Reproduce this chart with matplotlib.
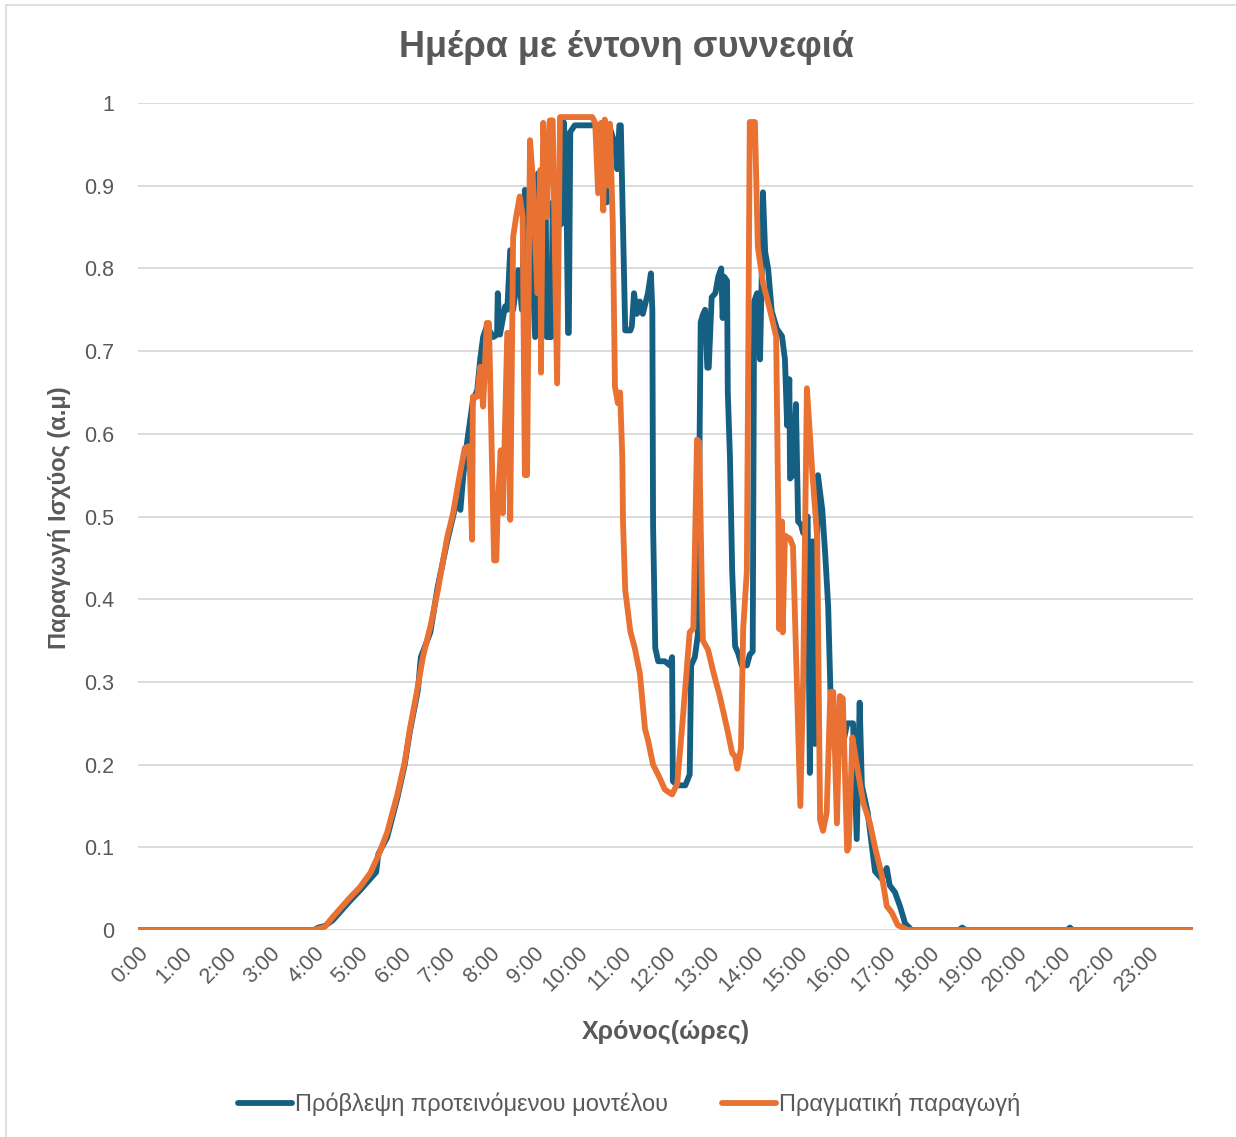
"""
Ημέρα με έντονη συννεφιά - πρόβλεψη vs πραγματική παραγωγή
Output: out.png
"""

import matplotlib
matplotlib.use('Agg')
import matplotlib.pyplot as plt
import matplotlib.patches as mpatches

plt.rcParams['font.family'] = ['Liberation Sans', 'DejaVu Sans']

# ── Δεδομένα (λεπτά από 0:00, ισχύς α.μ.) ─────────────────────────────────────
pred_min = [0, 240, 246, 255, 266, 289, 303, 317, 325, 328, 340, 354, 364, 371, 382, 386,
            399, 409, 422, 430, 435, 440, 444, 449, 457, 463, 467, 471, 476, 485, 490, 491,
            494, 501, 504, 508, 512, 519, 524, 528, 535, 542, 546, 551, 556, 558, 564, 566,
            571, 573, 579, 581, 584, 587, 588, 590, 596, 637, 640, 643, 651, 654, 657, 659,
            662, 665, 672, 674, 677, 681, 685, 689, 696, 700, 702, 703, 706, 710, 719, 726,
            729, 730, 736, 747, 753, 755, 760, 764, 768, 771, 774, 777, 779, 783, 788, 792,
            796, 798, 800, 804, 805, 808, 811, 815, 819, 824, 831, 835, 839, 841, 845, 849,
            852, 853, 856, 860, 865, 872, 879, 883, 886, 889, 890, 894, 898, 901, 905, 908,
            914, 917, 921, 924, 928, 934, 938, 942, 945, 951, 955, 961, 968, 976, 981, 985,
            988, 996, 1006, 1015, 1022, 1026, 1033, 1040, 1047, 1056, 1120, 1125, 1130,
            1268, 1272, 1276, 1439]
pred_val = [0, 0, 0.003, 0.005, 0.012, 0.035, 0.048, 0.062, 0.07, 0.092, 0.112, 0.16, 0.2,
            0.24, 0.29, 0.33, 0.36, 0.415, 0.47, 0.5, 0.52, 0.508, 0.55, 0.589, 0.64, 0.653,
            0.69, 0.717, 0.73, 0.717, 0.72, 0.77, 0.72, 0.754, 0.75, 0.822, 0.75, 0.798, 0.75,
            0.895, 0.87, 0.717, 0.915, 0.72, 0.93, 0.717, 0.717, 0.88, 0.72, 0.85, 0.855,
            0.977, 0.94, 0.722, 0.722, 0.965, 0.973, 0.973, 0.88, 0.973, 0.95, 0.92, 0.973,
            0.973, 0.846, 0.725, 0.725, 0.73, 0.77, 0.745, 0.76, 0.745, 0.77, 0.794, 0.75,
            0.49, 0.341, 0.325, 0.325, 0.32, 0.33, 0.18, 0.175, 0.175, 0.188, 0.32, 0.33,
            0.356, 0.735, 0.744, 0.75, 0.68, 0.68, 0.765, 0.77, 0.79, 0.8, 0.74, 0.79, 0.785,
            0.65, 0.57, 0.434, 0.343, 0.335, 0.32, 0.32, 0.333, 0.337, 0.76, 0.77, 0.69, 0.82,
            0.892, 0.82, 0.8, 0.748, 0.727, 0.718, 0.69, 0.61, 0.666, 0.546, 0.55, 0.636,
            0.494, 0.49, 0.48, 0.5, 0.19, 0.47, 0.225, 0.55, 0.508, 0.454, 0.392, 0.292,
            0.217, 0.254, 0.22, 0.25, 0.25, 0.11, 0.275, 0.175, 0.142, 0.071, 0.062, 0.075,
            0.054, 0.046, 0.029, 0.008, 0, 0, 0.003, 0, 0, 0.003, 0, 0]

real_min = [0, 240, 248, 255, 266, 289, 303, 317, 328, 340, 354, 364, 371, 382, 389, 399,
            409, 422, 430, 438, 446, 452, 456, 457, 463, 467, 471, 476, 479, 483, 486, 489,
            491, 495, 498, 504, 505, 508, 512, 516, 521, 525, 528, 531, 535, 539, 545, 549,
            550, 553, 556, 558, 562, 566, 572, 576, 620, 624, 628, 632, 635, 637, 642, 644,
            648, 651, 655, 658, 661, 662, 665, 672, 678, 685, 692, 696, 703, 712, 719, 729,
            736, 744, 753, 758, 763, 766, 770, 771, 778, 785, 794, 804, 811, 815, 818, 823,
            826, 831, 835, 842, 846, 853, 863, 871, 874, 875, 879, 880, 883, 890, 894, 904,
            908, 913, 920, 927, 931, 935, 940, 945, 949, 954, 958, 962, 968, 970, 975, 981,
            990, 999, 1006, 1015, 1022, 1029, 1037, 1051, 1439]
real_val = [0, 0, 0.002, 0.004, 0.016, 0.039, 0.052, 0.069, 0.09, 0.118, 0.164, 0.203,
            0.243, 0.295, 0.331, 0.367, 0.41, 0.475, 0.504, 0.545, 0.583, 0.585, 0.472, 0.645,
            0.645, 0.681, 0.633, 0.734, 0.734, 0.572, 0.447, 0.447, 0.512, 0.58, 0.504, 0.722,
            0.722, 0.496, 0.838, 0.862, 0.887, 0.862, 0.55, 0.55, 0.955, 0.907, 0.77, 0.919,
            0.674, 0.976, 0.92, 0.862, 0.979, 0.979, 0.661, 0.983, 0.983, 0.976, 0.891, 0.976,
            0.87, 0.98, 0.9, 0.975, 0.855, 0.657, 0.637, 0.65, 0.572, 0.492, 0.411, 0.361,
            0.341, 0.31, 0.243, 0.23, 0.2, 0.184, 0.17, 0.164, 0.177, 0.26, 0.36, 0.365, 0.593,
            0.59, 0.39, 0.35, 0.339, 0.313, 0.283, 0.244, 0.214, 0.21, 0.195, 0.22, 0.364,
            0.434, 0.977, 0.977, 0.826, 0.783, 0.748, 0.718, 0.498, 0.364, 0.494, 0.36, 0.477,
            0.473, 0.464, 0.15, 0.308, 0.655, 0.558, 0.475, 0.133, 0.12, 0.142, 0.288, 0.288,
            0.129, 0.283, 0.28, 0.096, 0.1, 0.233, 0.2, 0.154, 0.129, 0.1, 0.067, 0.029,
            0.021, 0.006, 0, 0]

hour_labels = [f'{h}:00' for h in range(24)]
y_ticks = [0, 0.1, 0.2, 0.3, 0.4, 0.5, 0.6, 0.7, 0.8, 0.9, 1]
y_labels = ['0', '0.1', '0.2', '0.3', '0.4', '0.5', '0.6', '0.7', '0.8', '0.9', '1']

# ── Plot ──────────────────────────────────────────────────────────────────────
txt = '#595959'
fig = plt.figure(figsize=(12.36, 11.37), dpi=100)
ax = fig.add_axes([0.1117, 0.182, 0.8535, 0.7274])

ax.plot(pred_min, pred_val, color='#156082', lw=4.2,
        solid_joinstyle='round', solid_capstyle='round',
        label='Πρόβλεψη προτεινόμενου μοντέλου', zorder=3)
ax.plot(real_min, real_val, color='#E97132', lw=4.2,
        solid_joinstyle='round', solid_capstyle='round',
        label='Πραγματική παραγωγή', zorder=4)

ax.set_xlim(0, 1440)
ax.set_ylim(0, 1)
ax.set_xticks([h * 60 for h in range(24)])
ax.set_xticklabels(hour_labels, rotation=45, ha='right', va='top',
                   rotation_mode='anchor', fontsize=15.5, color=txt)
ax.set_yticks(y_ticks)
ax.set_yticklabels(y_labels, fontsize=15.5, color=txt)
ax.tick_params(axis='x', length=0, pad=9)
ax.tick_params(axis='y', length=0, pad=17)

ax.grid(axis='y', color='#D9D9D9', lw=1.3)
ax.set_axisbelow(True)
for s in ax.spines.values():
    s.set_visible(False)

fig.text(0.507, 0.958, 'Ημέρα με έντονη συννεφιά', fontsize=26,
         fontweight='bold', color=txt, ha='center', va='center')
fig.text(0.0485, 0.545, 'Παραγωγή Ισχύος (α.μ)', fontsize=17,
         fontweight='bold', color=txt, ha='center', va='center', rotation=90)
fig.text(0.5385, 0.092, 'Χρόνος(ώρες)', fontsize=18,
         fontweight='bold', color=txt, ha='center', va='center')

fig.legend(loc='center', bbox_to_anchor=(0.509, 0.029), ncol=2,
           frameon=False, fontsize=17, handlelength=2.3, handletextpad=0.1,
           columnspacing=2.3, labelcolor=txt)

# περίγραμμα γραφήματος
fig.patches.append(mpatches.Rectangle((0.005, -0.01), 1.1, 1.006,
                                      transform=fig.transFigure, fill=False,
                                      edgecolor='#D9D9D9', lw=1.2))

plt.savefig('out.png', dpi=100)
plt.close()
print('Saved: out.png')
